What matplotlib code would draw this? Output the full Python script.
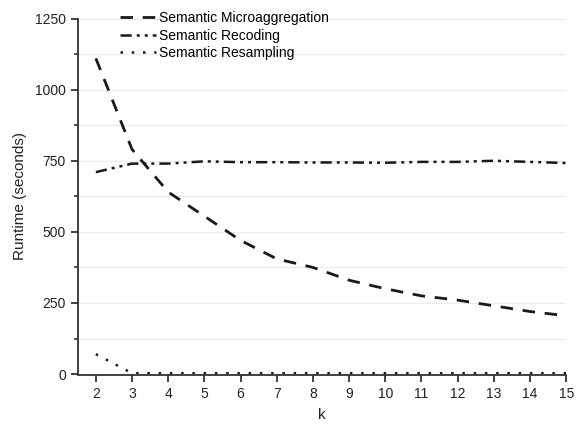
import numpy as np
import matplotlib.pyplot as plt
from matplotlib.ticker import MultipleLocator

plt.rcParams['font.family'] = ['Liberation Sans', 'DejaVu Sans']

k = [2, 3, 4, 5, 6, 7, 8, 9, 10, 11, 12, 13, 14, 15]
microaggregation = [1110, 790, 640, 555, 470, 405, 375, 330, 300, 275, 260, 240, 220, 205]
recoding = [710, 740, 740, 748, 745, 745, 744, 744, 743, 746, 746, 750, 746, 742]
resampling = [70, 3, 3, 3, 3, 3, 3, 3, 3, 3, 3, 3, 3, 3]

fig = plt.figure(figsize=(5.76, 4.28), dpi=100)
ax = fig.add_axes([0.135, 0.124, 0.848, 0.834])

ax.plot(k, microaggregation, color='#1a1a1a', lw=2.0, linestyle=(0, (4.5, 3.5)),
        label='Semantic Microaggregation')
ax.plot(k, recoding, color='#1a1a1a', lw=1.8, linestyle=(0, (4.5, 2, 1.2, 2, 1.2, 2)),
        label='Semantic Recoding')
ax.plot(k, resampling, color='#1a1a1a', lw=1.8, linestyle=(0, (1, 3.5)),
        label='Semantic Resampling')

ax.set_xlim(1.5, 15)
ax.set_ylim(-3, 1252)
ax.xaxis.set_major_locator(MultipleLocator(1))
ax.yaxis.set_major_locator(MultipleLocator(250))
ax.yaxis.set_minor_locator(MultipleLocator(125))

ax.grid(True, axis='y', which='both', color='#ebebeb', lw=0.9)
ax.set_axisbelow(True)

for s in ['top', 'right']:
    ax.spines[s].set_visible(False)
for s in ['left', 'bottom']:
    ax.spines[s].set_linewidth(1.3)
    ax.spines[s].set_color('#333333')
ax.spines['left'].set_bounds(0, 1250)

ax.tick_params(axis='both', which='major', direction='out', length=5, width=1.3,
               color='#333333', labelsize=10, labelcolor='#222222')
ax.tick_params(axis='y', which='minor', direction='out', length=3, width=1.2, color='#333333')

ax.set_xlabel('k', fontsize=11, color='#222222', labelpad=5)
ax.set_ylabel('Runtime (seconds)', fontsize=11, color='#222222', labelpad=6)

ax.legend(loc='upper left', bbox_to_anchor=(0.075, 1.035), frameon=False,
          fontsize=10, handlelength=2.6, handletextpad=0.2, labelspacing=0.25,
          borderaxespad=0.0)

fig.savefig('out.png', dpi=100)
